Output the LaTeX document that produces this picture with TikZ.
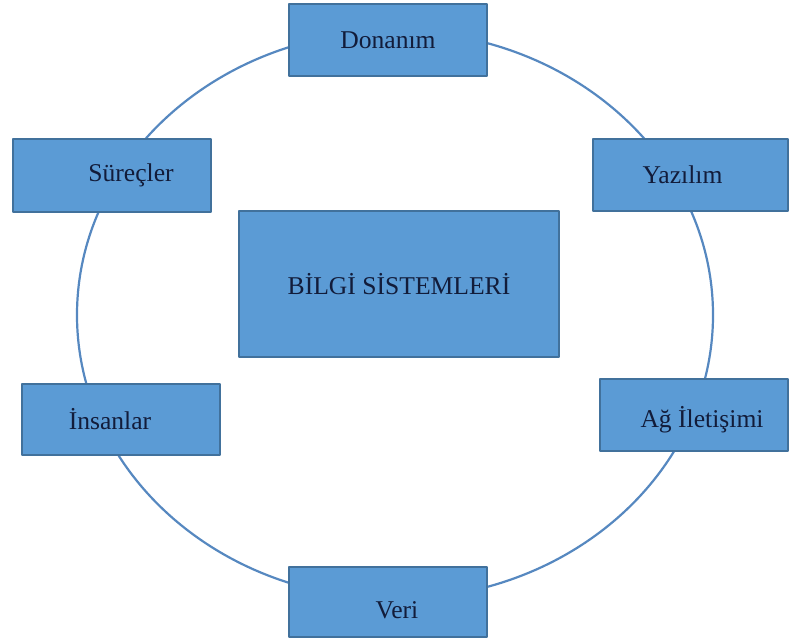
\documentclass[tikz,border=0pt]{standalone}
\usepackage{fontspec}
\setmainfont{Liberation Serif}
\definecolor{kutumavi}{RGB}{91,155,213}
\definecolor{kenarmavi}{RGB}{65,113,156}
\definecolor{cembermavi}{RGB}{86,136,192}
\definecolor{yazirenk}{RGB}{18,28,58}
\tikzset{
  kutu/.style={draw=kenarmavi, fill=kutumavi, line width=2pt, text=yazirenk,
    minimum width=198, minimum height=72, inner sep=2pt,
    font=\fontsize{25.6}{30}\selectfont},
  cember/.style={draw=cembermavi, line width=2.2pt}
}
\begin{document}
\begin{tikzpicture}[x=1pt, y=-1pt, line join=round, line cap=round]
	\useasboundingbox (0,0) rectangle (789,639);
	\coordinate (M) at (395,315);
	\draw[cember] (M) ellipse [x radius=318, y radius=284];
	\node[kutu] (donanim) at (388,40.5) {Donanım};
	\node[kutu] (surecler) at (112,175.5) {\hspace*{38pt}Süreçler};
	\node[kutu, minimum width=195] (yazilim) at (690.5,175) {Yazılım\hspace*{16pt}};
	\node[kutu, minimum width=320, minimum height=146] (bilgi) at (399,284) {BİLGİ SİSTEMLERİ};
	\node[kutu, minimum height=71] (insanlar) at (121,419.5) {İnsanlar\hspace*{22pt}};
	\node[kutu, minimum width=188] (ag) at (694,415) {\hspace*{16pt}\raisebox{-5pt}[\height][\depth]{Ağ İletişimi}};
	\node[kutu, minimum height=70] (veri) at (388,602) {\hspace*{18pt}\raisebox{-8pt}[\height][\depth]{Veri}};
\end{tikzpicture}
\end{document}
